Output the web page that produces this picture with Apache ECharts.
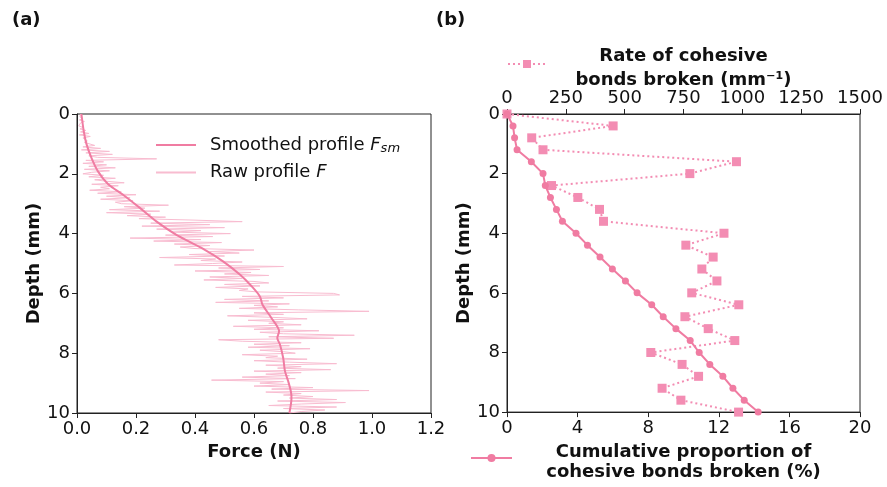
<!DOCTYPE html>
<html>
<head>
<meta charset="utf-8">
<script src="https://cdn.jsdelivr.net/npm/echarts@6/dist/echarts.min.js"></script>
<style>
html,body{margin:0;padding:0;background:#fff;}
#chart{width:887px;height:487px;}
</style>
</head>
<body>
<div id="chart"></div>
<script>
// ---------------- DATA ----------------
// Panel (a): raw force profile, sampled every 0.05 mm from 0 to 10 mm
const rawDepthStep = 0.05;
const rawForce = [
  0.012,0.015,0.010,0.020,0.008,0.025,0.012,0.018,0.006,0.022,
  0.010,0.030,0.012,0.040,0.008,0.045,0.020,0.015,0.035,0.025,
  0.030,0.060,0.020,0.080,0.015,0.110,0.030,0.120,0.040,0.070,
  0.270,0.030,0.090,0.020,0.100,0.040,0.130,0.025,0.110,0.050,
  0.020,0.090,0.040,0.130,0.060,0.100,0.160,0.050,0.140,0.080,
  0.110,0.043,0.150,0.070,0.200,0.100,0.180,0.080,0.190,0.130,
  0.150,0.310,0.160,0.230,0.110,0.280,0.100,0.250,0.170,0.300,
  0.210,0.400,0.560,0.250,0.450,0.220,0.500,0.270,0.420,0.320,
  0.520,0.300,0.460,0.180,0.420,0.260,0.490,0.330,0.450,0.350,
  0.400,0.600,0.450,0.550,0.380,0.500,0.280,0.470,0.420,0.560,
  0.460,0.330,0.700,0.480,0.620,0.400,0.590,0.500,0.650,0.450,
  0.560,0.430,0.600,0.650,0.500,0.620,0.470,0.580,0.550,0.610,
  0.870,0.890,0.560,0.700,0.500,0.650,0.470,0.720,0.600,0.680,
  0.550,0.750,0.990,0.600,0.700,0.510,0.660,0.780,0.580,0.700,
  0.650,0.760,0.530,0.700,0.600,0.820,0.620,0.700,0.940,0.650,
  0.870,0.480,0.560,0.760,0.600,0.720,0.580,0.790,0.620,0.700,
  0.740,0.560,0.680,0.640,0.780,0.600,0.720,0.880,0.640,0.760,
  0.680,0.860,0.600,0.760,0.640,0.720,0.560,0.740,0.456,0.700,
  0.620,0.720,0.600,0.800,0.660,0.990,0.640,0.760,0.700,0.800,
  0.720,0.880,0.680,0.910,0.760,0.650,0.880,0.700,0.840,0.760,
  0.720
];
// Panel (a): smoothed profile
const smoothDepth = [0,0.58,1.0,1.47,1.92,2.34,2.7,3.14,3.59,4.04,4.48,4.93,5.37,5.76,6.1,6.38,6.82,7.27,7.49,7.71,8.16,8.6,8.94,9.28,9.5,10.0];
const smoothForce = [0.015,0.023,0.032,0.049,0.071,0.105,0.156,0.213,0.269,0.337,0.422,0.495,0.552,0.592,0.620,0.629,0.659,0.685,0.679,0.688,0.699,0.705,0.716,0.725,0.727,0.720];

// Panel (b)
const bDepth = [0,0.4,0.8,1.2,1.6,2.0,2.4,2.8,3.2,3.6,4.0,4.4,4.8,5.2,5.6,6.0,6.4,6.8,7.2,7.6,8.0,8.4,8.8,9.2,9.6,10.0];
const rateBroken = [0,451,105,153,975,777,189,301,393,410,922,760,876,828,892,785,985,756,855,968,611,744,814,659,739,984];
const cumBroken = [0,0.34,0.43,0.57,1.38,2.04,2.17,2.46,2.80,3.14,3.91,4.56,5.27,5.97,6.71,7.37,8.20,8.85,9.57,10.38,10.89,11.49,12.23,12.80,13.44,14.23];

// Tick values
const forceTicks = [0.0,0.2,0.4,0.6,0.8,1.0,1.2];
const depthTicks = [0,2,4,6,8,10];
const cumTicks = [0,4,8,12,16,20];
const rateTicks = [0,250,500,750,1000,1250,1500];

// ---------------- CHART ----------------
const chart = echarts.init(document.getElementById('chart'), null, {renderer:'canvas'});
const FONT = 'DejaVu Sans';
const AX = '#222';
const pinkLine = '#f07ca2';
const pinkRaw = '#f8bcd0';
const pinkMark = '#f38db3';

const rawData = rawForce.map((f,i)=>[f, +(i*rawDepthStep).toFixed(2)]);
const smoothData = smoothForce.map((f,i)=>[f, smoothDepth[i]]);
const rateData = rateBroken.map((r,i)=>[r, bDepth[i]]);
const cumData = cumBroken.map((c,i)=>[c, bDepth[i]]);

const labelStyle = {fontFamily:FONT, fontSize:18, color:'#111'};
const nameStyle = {fontFamily:FONT, fontSize:18, fontWeight:'bold', color:'#111'};

function valAxis(ticks, extra){
  return Object.assign({
    type:'value',
    min:ticks[0], max:ticks[ticks.length-1], interval:ticks[1]-ticks[0],
    splitLine:{show:false},
    axisLine:{show:true, onZero:false, lineStyle:{color:AX, width:1}},
    axisTick:{show:true, length:5, lineStyle:{color:AX}},
    axisLabel:Object.assign({margin:7, showMinLabel:true, showMaxLabel:true, formatter:v=>String(v)}, labelStyle),
    nameTextStyle:nameStyle,
    nameLocation:'middle'
  }, extra);
}

const option = {
  animation:false,
  backgroundColor:'#fff',
  textStyle:{fontFamily:FONT},
  title:[
    {text:'(a)', left:7, top:6, textStyle:{fontFamily:FONT, fontSize:18, fontWeight:'bold', color:'#111'}},
    {text:'(b)', left:431, top:6, textStyle:{fontFamily:FONT, fontSize:18, fontWeight:'bold', color:'#111'}}
  ],
  grid:[
    {left:77, top:114, width:354, height:299, show:true, borderColor:AX, borderWidth:1, backgroundColor:'transparent'},
    {left:507, top:114, width:353, height:299, show:true, borderColor:AX, borderWidth:1, backgroundColor:'transparent'}
  ],
  xAxis:[
    valAxis(forceTicks, {gridIndex:0, position:'bottom', name:'Force (N)', nameGap:30,
      axisLabel:Object.assign({margin:7, showMinLabel:true, showMaxLabel:true, formatter:v=>v.toFixed(1)}, labelStyle)}),
    valAxis(cumTicks, {gridIndex:1, position:'bottom', name:'Cumulative proportion of\ncohesive bonds broken (%)', nameGap:28,
      nameTextStyle:Object.assign({lineHeight:20, align:'center'}, nameStyle)}),
    valAxis(rateTicks, {gridIndex:1, position:'top', name:'Rate of cohesive\nbonds broken (mm⁻¹)', nameGap:22,
      nameMoveOverlap:false,
      nameTextStyle:Object.assign({lineHeight:24, align:'center'}, nameStyle)})
  ],
  yAxis:[
    valAxis(depthTicks, {gridIndex:0, inverse:true, name:'Depth (mm)', nameGap:34}),
    valAxis(depthTicks, {gridIndex:1, inverse:true, name:'Depth (mm)', nameGap:34})
  ],
  legend:[
    {
      left:150, top:131, orient:'vertical', itemWidth:40, itemHeight:14, itemGap:8,
      itemStyle:{opacity:0},
      data:['smooth','raw'],
      formatter:n=> n==='smooth' ? '{n|Smoothed profile }{i|F}{s|sm}' : '{n|Raw profile }{i|F}',
      textStyle:{fontFamily:FONT, fontSize:18, color:'#111', padding:[0,0,0,9],
        rich:{
          n:{fontFamily:FONT, fontSize:18, color:'#111'},
          i:{fontFamily:FONT, fontSize:18, fontStyle:'italic', color:'#111'},
          s:{fontFamily:FONT, fontSize:13, fontStyle:'italic', color:'#111', verticalAlign:'bottom', padding:[8,0,0,0]}
        }}
    },
    {
      left:502, top:54, itemWidth:38, itemHeight:10,
      data:['rate'], formatter:()=>'', textStyle:{fontSize:1}
    },
    {
      left:465, top:448, itemWidth:41, itemHeight:10,
      data:['cum'], formatter:()=>'', textStyle:{fontSize:1}
    }
  ],
  series:[
    {name:'raw', type:'line', xAxisIndex:0, yAxisIndex:0, data:rawData, showSymbol:false, symbol:'none',
      lineStyle:{color:pinkRaw, width:1}, itemStyle:{color:pinkRaw}, z:2},
    {name:'smooth', type:'line', xAxisIndex:0, yAxisIndex:0, data:smoothData, showSymbol:false, symbol:'none', smooth:0.3,
      lineStyle:{color:pinkLine, width:2}, itemStyle:{color:pinkLine}, z:3},
    {name:'rate', type:'line', xAxisIndex:2, yAxisIndex:1, data:rateData, symbol:'rect', symbolSize:9,
      lineStyle:{color:pinkMark, width:2, type:[2,3]}, itemStyle:{color:pinkMark}, z:3},
    {name:'cum', type:'line', xAxisIndex:1, yAxisIndex:1, data:cumData, symbol:'circle', symbolSize:7,
      lineStyle:{color:pinkLine, width:2}, itemStyle:{color:pinkLine}, z:4}
  ]
};
chart.setOption(option);
</script>
</body>
</html>
